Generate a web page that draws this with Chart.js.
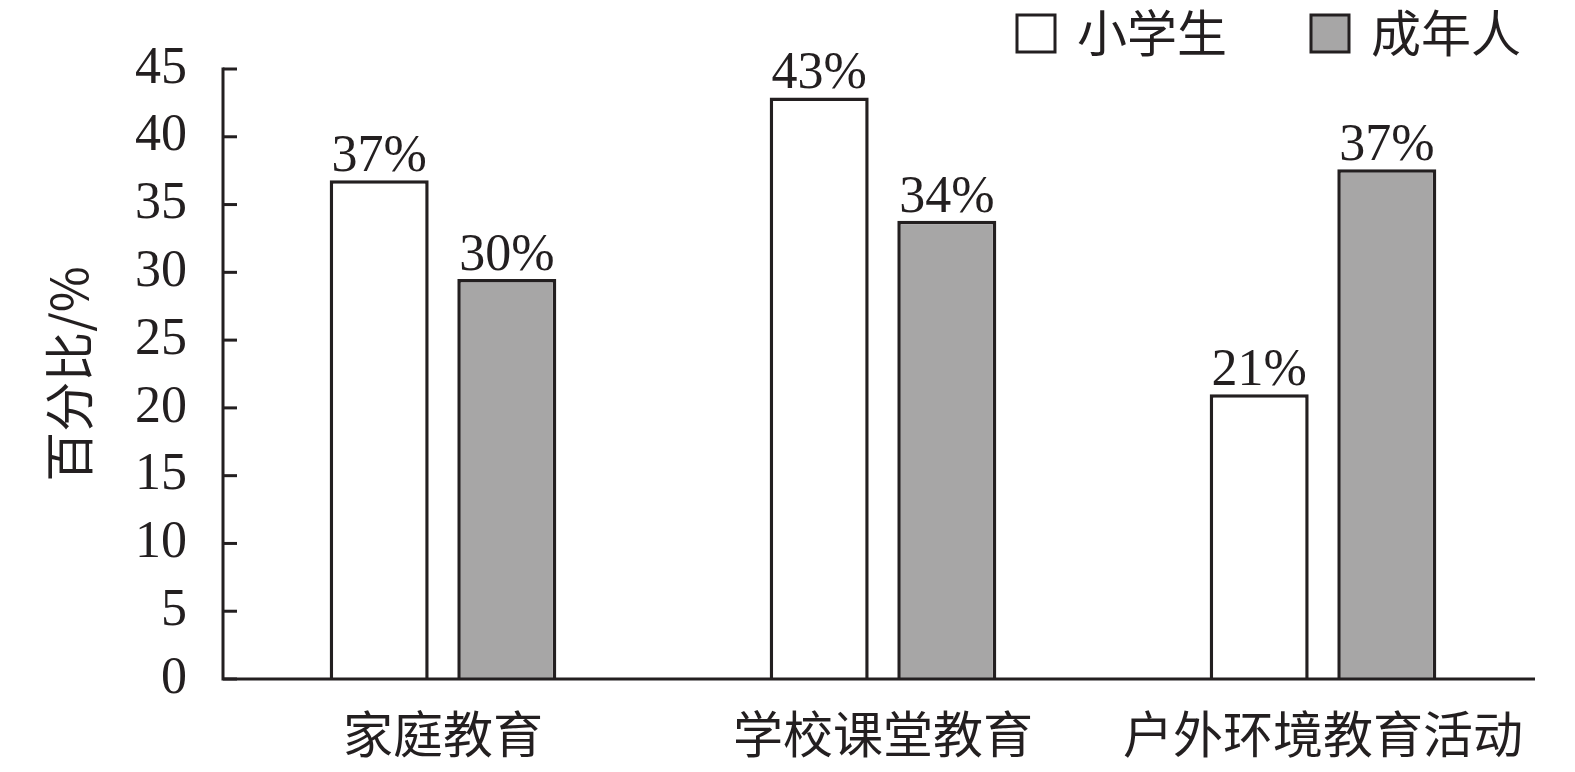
<!DOCTYPE html>
<html lang="zh">
<head>
  <meta charset="UTF-8">
  <title>百分比</title>
  <script src="https://cdn.jsdelivr.net/npm/chart.js"></script>
  <style>
    html, body { margin: 0; padding: 0; background: #fff; }
    #wrap { width: 1575px; height: 772px; }
  </style>
</head>
<body>
  <div id="wrap"><canvas id="barChart"></canvas></div>
  <script>
    // data
    const categories = ['家庭教育', '学校课堂教育', '户外环境教育活动'];
    const pupils = [36.8, 42.9, 21.0];
    const adults = [29.5, 33.8, 37.6];
    const pupilLabels = ['37%', '43%', '21%'];
    const adultLabels = ['30%', '34%', '37%'];
    const seriesNames = ['小学生', '成年人'];
    const yTicks = [0, 5, 10, 15, 20, 25, 30, 35, 40, 45];

    const INK = '#231f20';
    const GREY = '#a7a6a6';
    const NUM_FONT = '"Liberation Serif", "Times New Roman", serif';
    const CJK_FONT = '"Noto Sans CJK SC", "Liberation Serif", serif';

    // axis lines, inward ticks, value labels and the legend
    const decorations = {
      id: 'decorations',
      afterDraw(chart) {
        const ctx = chart.ctx;
        const area = chart.chartArea;
        const y = chart.scales.y;
        ctx.save();
        ctx.strokeStyle = INK;
        ctx.lineWidth = 3;
        ctx.beginPath();
        ctx.moveTo(area.left, y.getPixelForValue(45) - 1.5);
        ctx.lineTo(area.left, area.bottom);
        ctx.lineTo(area.right - 8, area.bottom);
        ctx.stroke();
        yTicks.forEach(v => {
          const py = y.getPixelForValue(v);
          ctx.beginPath();
          ctx.moveTo(area.left, py);
          ctx.lineTo(area.left + 14, py);
          ctx.stroke();
        });

        // value labels above bars
        ctx.fillStyle = INK;
        ctx.font = '52px ' + NUM_FONT;
        ctx.textAlign = 'center';
        ctx.textBaseline = 'alphabetic';
        const labelSets = [pupilLabels, adultLabels];
        chart.data.datasets.forEach((ds, i) => {
          chart.getDatasetMeta(i).data.forEach((bar, j) => {
            ctx.fillText(labelSets[i][j], bar.x, bar.y - 9);
          });
        });

        // legend, top right
        const items = [
          { x: 1017, fill: '#ffffff', text: seriesNames[0] },
          { x: 1311, fill: GREY, text: seriesNames[1] }
        ];
        ctx.font = '50px ' + CJK_FONT;
        ctx.textAlign = 'left';
        ctx.textBaseline = 'middle';
        items.forEach(it => {
          ctx.fillStyle = it.fill;
          ctx.fillRect(it.x, 15, 38, 37);
          ctx.strokeRect(it.x, 15, 38, 37);
          ctx.fillStyle = INK;
          ctx.fillText(it.text, it.x + 60, 33);
        });
        ctx.restore();
      }
    };

    new Chart(document.getElementById('barChart'), {
      type: 'bar',
      data: {
        labels: categories,
        datasets: [{
          label: seriesNames[0],
          data: pupils,
          backgroundColor: '#ffffff',
          borderColor: INK,
          borderWidth: 3.5,
          borderSkipped: 'bottom'
        }, {
          label: seriesNames[1],
          data: adults,
          backgroundColor: GREY,
          borderColor: INK,
          borderWidth: 3.5,
          borderSkipped: 'bottom'
        }]
      },
      options: {
        responsive: true,
        maintainAspectRatio: false,
        animation: false,
        layout: { padding: { top: 69, right: 32, left: 0, bottom: 0 } },
        datasets: {
          bar: { categoryPercentage: 0.58, barPercentage: 0.776 }
        },
        plugins: {
          legend: { display: false },
          tooltip: { enabled: false }
        },
        scales: {
          x: {
            grid: { display: false },
            border: { display: false },
            ticks: {
              color: INK,
              padding: 17,
              font: { family: CJK_FONT, size: 50 }
            },
            afterFit(scale) { scale.height = 93; }
          },
          y: {
            min: 0,
            max: 45,
            grid: { display: false },
            border: { display: false },
            afterBuildTicks(scale) { scale.ticks = yTicks.map(v => ({ value: v })); },
            ticks: {
              color: INK,
              padding: 28,
              font: { family: NUM_FONT, size: 52 }
            },
            title: {
              display: true,
              text: '百分比/%',
              color: INK,
              padding: { top: 39, bottom: 0 },
              font: { family: CJK_FONT, size: 50 }
            },
            afterFit(scale) { scale.width = 223; }
          }
        }
      },
      plugins: [decorations]
    });
  </script>
</body>
</html>
